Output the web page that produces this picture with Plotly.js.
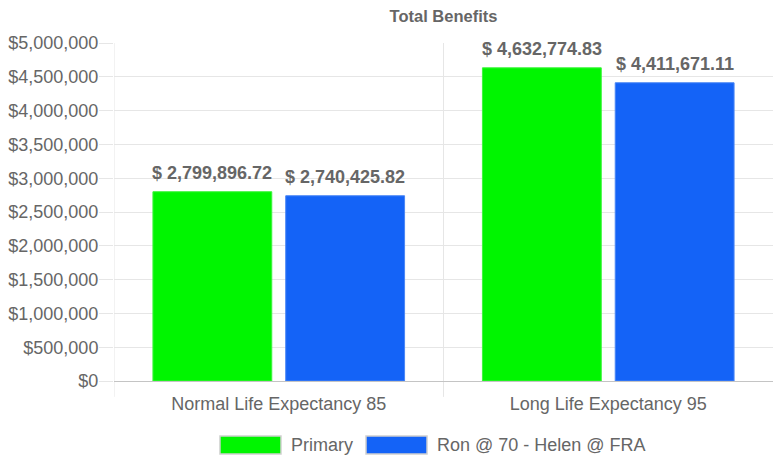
<!DOCTYPE html>
<html>
<head>
<meta charset="utf-8">
<script src="https://cdn.plot.ly/plotly-3.0.1.min.js"></script>
<style>html,body{margin:0;padding:0;background:#fff;}#chart{width:773px;height:460px;}</style>
</head>
<body>
<div id="chart"></div>
<script>
const categories = ["Normal Life Expectancy 85", "Long Life Expectancy 95"];
const seriesNames = ["Primary", "Ron @ 70 - Helen @ FRA"];
const primaryValues = [2799896.72, 4632774.83];
const ronHelenValues = [2740425.82, 4411671.11];
const yTickValues = [0, 500000, 1000000, 1500000, 2000000, 2500000, 3000000, 3500000, 4000000, 4500000, 5000000];
const yTickLabels = ["$0", "$500,000", "$1,000,000", "$1,500,000", "$2,000,000", "$2,500,000", "$3,000,000", "$3,500,000", "$4,000,000", "$4,500,000", "$5,000,000"];
const titleText = "Total Benefits";

const colors = ["#00f500", "#1463f7"];
const borders = ["#3df53d", "#4a86f5"];
const allSeries = [primaryValues, ronHelenValues];
const FONT = "Liberation Sans, Arial, sans-serif";
const GREY = "#666666";

function money(v) {
  return "$ " + v.toLocaleString("en-US", {minimumFractionDigits: 2, maximumFractionDigits: 2});
}

const traces = allSeries.map((vals, i) => ({
  type: "bar",
  name: seriesNames[i],
  x: categories,
  y: vals,
  marker: {color: colors[i], line: {color: borders[i], width: 1}},
  hoverinfo: "none",
  showlegend: false
}));

const annotations = [];
allSeries.forEach((vals, i) => {
  vals.forEach((v, j) => {
    annotations.push({
      x: categories[j], y: v, xref: "x", yref: "y",
      text: money(v), showarrow: false,
      xshift: i === 0 ? -66.5 : 66.5, yshift: 7, yanchor: "bottom",
      font: {family: FONT, size: 18, color: GREY, weight: "bold"}
    });
  });
});

// custom legend
const legendBoxes = [[0.1608, 0.2534], [0.3824, 0.4750]];
const legendTextX = [0.2656, 0.4871];
const shapes = [];
legendBoxes.forEach((b, i) => {
  shapes.push({type: "rect", xref: "paper", yref: "paper", x0: b[0], x1: b[1], y0: -0.1627, y1: -0.216,
    fillcolor: colors[i], line: {color: "#d0d0d0", width: 1.5}});
  annotations.push({xref: "paper", yref: "paper", x: legendTextX[i], y: -0.1893, xanchor: "left", yanchor: "middle",
    text: seriesNames[i], showarrow: false, font: {family: FONT, size: 18, color: GREY}});
});
// vertical category grid lines
[-0.5, 0.5].forEach(xv => {
  shapes.push({type: "line", xref: "x", yref: "paper", x0: xv, x1: xv, y0: -0.047, y1: 1,
    line: {color: "#e6e6e6", width: 1}, layer: "below"});
});

const layout = {
  width: 773, height: 460,
  margin: {l: 114, r: 0, t: 43, b: 79},
  paper_bgcolor: "#ffffff", plot_bgcolor: "#ffffff",
  title: {text: "<b>" + titleText + "</b>", x: 0.5, xref: "paper", y: 0.965, yanchor: "middle",
    font: {family: FONT, size: 16.5, color: GREY}},
  barmode: "group", bargap: 0.194, bargroupgap: 0.105,
  xaxis: {type: "category", range: [-0.5, 1.5], showgrid: false, showline: true, linecolor: "#c4c4c4", linewidth: 1,
    ticks: "outside", ticklen: 6, tickcolor: "rgba(0,0,0,0)",
    tickfont: {family: FONT, size: 18, color: GREY}, zeroline: false, fixedrange: true},
  yaxis: {range: [0, 5000000], tickvals: yTickValues, ticktext: yTickLabels,
    showgrid: true, gridcolor: "#e6e6e6", gridwidth: 1, zeroline: false,
    ticks: "outside", ticklen: 14, tickcolor: "#e6e6e6", ticklabelstandoff: -3,
    tickfont: {family: FONT, size: 18, color: GREY}, fixedrange: true},
  annotations: annotations,
  shapes: shapes,
  showlegend: false
};

Plotly.newPlot("chart", traces, layout, {displayModeBar: false, staticPlot: true});
</script>
</body>
</html>
